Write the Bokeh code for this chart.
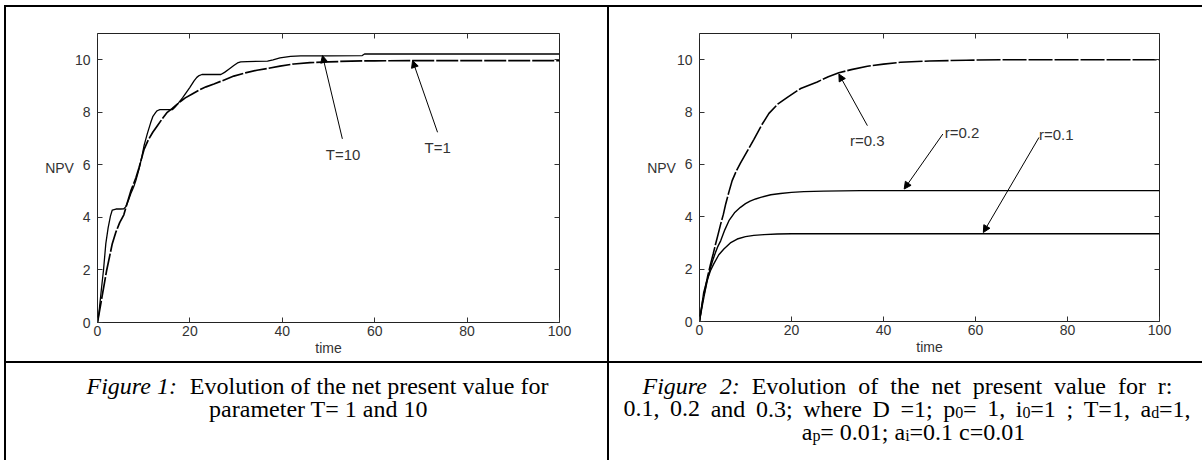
import re
from bokeh.plotting import figure
from bokeh.models import Range1d, LinearAxis, FixedTicker, Arrow, NormalHead, Label, Div
from bokeh.layouts import row, column
from bokeh.embed import file_html
from bokeh.resources import INLINE
from bokeh.core.properties import value

# ---------------- data ----------------
x_ticks = [0, 20, 40, 60, 80, 100]
y_ticks = [0, 2, 4, 6, 8, 10]
x_title = "time"
y_title = "NPV"

# Figure 1: T = 10 (stepped) and T = 1 (smooth)
t_T10 = [0, 0.3, 0.8, 1.3, 1.8, 2.3, 2.8, 3.2, 4.0, 5.0, 5.7, 6.1, 6.7, 7.2, 7.8, 8.3, 9.0, 9.6, 10.1, 10.8,
         11.5, 12.0, 12.6, 12.9, 13.5, 16.2, 16.8, 17.5, 18.4, 19.2, 20.0, 20.9, 21.5, 22.0, 22.6, 26.7, 27.5,
         28.5, 29.5, 30.3, 31.0, 32.4, 36.8, 38.0, 39.5, 41.8, 44.0, 50.0, 57.3, 57.8, 100]
npv_T10 = [0, 0.35, 1.2, 2.0, 3.0, 3.6, 4.05, 4.28, 4.32, 4.32, 4.33, 4.4, 4.65, 4.9, 5.15, 5.4, 5.85, 6.3, 6.75, 7.2,
           7.6, 7.85, 8.0, 8.06, 8.1, 8.1, 8.2, 8.35, 8.55, 8.75, 8.95, 9.2, 9.33, 9.4, 9.44, 9.44, 9.52,
           9.65, 9.78, 9.88, 9.92, 9.93, 9.95, 10.0, 10.07, 10.13, 10.15, 10.15, 10.16, 10.22, 10.22]

t_T1 = [0, 0.5, 1.0, 1.5, 2.0, 2.6, 3.2, 4.0, 4.8, 5.7, 6.1, 7.2, 8.3, 9.0, 10.1, 11.0, 12.0, 13.0, 14.0, 15.1,
        16.2, 17.5, 19.0, 20.5, 22.0, 23.5, 25.2, 27.0, 29.5, 32.0, 34.5, 36.8, 39.5, 42.5, 46.0, 50.0, 55.0,
        60.0, 70.0, 100.0]
npv_T1 = [0, 0.5, 1.0, 1.5, 2.0, 2.5, 3.0, 3.45, 3.8, 4.1, 4.35, 5.0, 5.5, 5.9, 6.6, 6.95, 7.25, 7.5, 7.75, 8.0,
          8.15, 8.35, 8.55, 8.7, 8.85, 8.97, 9.08, 9.2, 9.38, 9.5, 9.6, 9.67, 9.76, 9.84, 9.89, 9.92, 9.95,
          9.96, 9.97, 9.97]

fig1_labels = ["T=10", "T=1"]

# Figure 2: r = 0.3, 0.2, 0.1
t_r03 = [0, 0.2, 0.7, 1.3, 1.8, 2.4, 3.0, 3.5, 4.0, 4.6, 5.2, 5.7, 6.4, 7.1, 8.0, 8.9, 10.2, 11.8, 13.5, 15.1,
         17.0, 19.1, 22.0, 25.6, 28.0, 30.3, 33.0, 36.5, 40.0, 43.7, 50.0, 58.0, 66.0, 100.0]
npv_r03 = [0, 0.28, 0.8, 1.3, 1.75, 2.19, 2.6, 2.96, 3.3, 3.72, 4.1, 4.49, 4.95, 5.38, 5.75, 6.05, 6.45, 6.95, 7.5, 7.95,
           8.3, 8.56, 8.9, 9.15, 9.35, 9.5, 9.62, 9.75, 9.83, 9.9, 9.95, 9.98, 10.0, 10.0]

t_r02 = [0, 0.5, 1.2, 1.8, 2.4, 3.0, 3.5, 4.0, 4.6, 5.5, 6.4, 7.6, 8.9, 10.0, 11.0, 12.2, 13.3, 15.5, 17.6, 20.0,
         22.7, 27.0, 35.0, 100.0]
npv_r02 = [0, 0.5, 1.15, 1.65, 2.06, 2.4, 2.65, 2.87, 3.08, 3.5, 3.85, 4.15, 4.36, 4.5, 4.6, 4.68, 4.74, 4.84, 4.89, 4.93,
           4.96, 4.98, 5.0, 5.0]

t_r01 = [0, 0.5, 0.9, 1.5, 2.4, 3.1, 4.2, 5.3, 6.7, 8.2, 10.0, 11.8, 14.0, 16.9, 20.0, 100.0]
npv_r01 = [0, 0.6, 1.1, 1.5, 1.95, 2.2, 2.55, 2.77, 3.0, 3.15, 3.24, 3.29, 3.32, 3.34, 3.35, 3.35]

fig2_labels = ["r=0.3", "r=0.2", "r=0.1"]

caption1 = [
    [("Figure 1:", "i"), ("  Evolution of the net present value for", "r")],
    [("parameter T= 1 and 10", "r")],
]
caption2 = [
    [("Figure 2:", "i"), (" Evolution of the net present value for r:", "r")],
    [("0.1, 0.2 and 0.3; where D =1; p", "r"), ("0", "s"), ("= 1, i", "r"), ("0", "s"),
     ("=1 ; T=1, a", "r"), ("d", "s"), ("=1,", "r")],
    [("a", "r"), ("p", "s"), ("= 0.01; a", "r"), ("i", "s"), ("=0.1 c=0.01", "r")],
]

# ---------------- styling helpers ----------------
SANS = "Liberation Sans"
SERIF = "Liberation Serif"
TXT = "#333333"


def make_plot(frame_w, frame_h, bl, br, bt, bb):
    p = figure(frame_width=frame_w, frame_height=frame_h,
               min_border_left=bl, min_border_right=br, min_border_top=bt, min_border_bottom=bb,
               x_range=Range1d(0, 100), y_range=Range1d(0, 11),
               x_axis_type=None, y_axis_type=None,
               output_backend="svg", toolbar_location=None)
    p.background_fill_color = "white"
    p.border_fill_color = "white"
    p.outline_line_color = "#222222"
    p.outline_line_width = 1
    for loc in ["below", "left", "above", "right"]:
        ticks = x_ticks if loc in ("below", "above") else y_ticks
        ax = LinearAxis(ticker=FixedTicker(ticks=ticks))
        ax.major_tick_in = 5
        ax.major_tick_out = 0
        ax.major_tick_line_color = "#333333"
        ax.minor_tick_line_color = None
        ax.axis_line_color = None
        if loc in ("above", "right"):
            ax.major_label_text_color = None
            ax.major_label_standoff = 0
        else:
            ax.major_label_text_font = SANS
            ax.major_label_text_font_size = "14px"
            ax.major_label_text_color = TXT
            ax.major_label_standoff = 7 if loc == "left" else 3
        if loc == "below":
            ax.axis_label = x_title
            ax.axis_label_text_font = SANS
            ax.axis_label_text_font_size = "14px"
            ax.axis_label_text_font_style = "normal"
            ax.axis_label_text_color = TXT
            ax.axis_label_standoff = 1
        if loc == "left":
            ax.axis_label = y_title + "\n"
            ax.axis_label_orientation = "horizontal"
            ax.axis_label_text_font = SANS
            ax.axis_label_text_font_size = "14px"
            ax.axis_label_text_font_style = "normal"
            ax.axis_label_text_color = TXT
            ax.axis_label_standoff = -2
        p.add_layout(ax, loc)
    return p


def arrow(p, xs, ys, xe, ye):
    p.add_layout(Arrow(end=NormalHead(size=7, fill_color="black", line_color="black", line_width=1),
                       x_start=xs, y_start=ys, x_end=xe, y_end=ye,
                       line_color="black", line_width=1))


def note(p, x, y, txt):
    p.add_layout(Label(x=x, y=y, text=txt, text_align="left", text_baseline="alphabetic",
                       text_font=SANS, text_font_size="15px", text_color=TXT))


# ---------------- figure 1 ----------------
p1 = make_plot(462, 289, 91, 48, 26, 39)
p1.line(t_T1, npv_T1, line_color="black", line_width=1.7, line_dash="22 2")
p1.line(t_T10, npv_T10, line_color="black", line_width=1.3)
note(p1, 49.4, 6.39, fig1_labels[0])
note(p1, 70.8, 6.66, fig1_labels[1])
arrow(p1, 53.0, 6.99, 48.7, 10.16)
arrow(p1, 73.6, 7.24, 68.2, 9.97)

# ---------------- figure 2 ----------------
p2 = make_plot(460, 288, 90, 43, 26, 40)
p2.line(t_r03, npv_r03, line_color="black", line_width=1.6, line_dash="24 2")
p2.line(t_r02, npv_r02, line_color="black", line_width=1.4)
p2.line(t_r01, npv_r01, line_color="black", line_width=1.4)
note(p2, 32.7, 6.93, fig2_labels[0])
note(p2, 53.3, 7.22, fig2_labels[1])
note(p2, 73.8, 7.16, fig2_labels[2])
arrow(p2, 36.5, 7.48, 30.3, 9.45)
arrow(p2, 52.9, 7.16, 44.5, 5.06)
arrow(p2, 73.8, 7.03, 61.7, 3.40)

# ---------------- captions ----------------
ROMAN_W = {' ': 250, '.': 250, ',': 250, ';': 278, ':': 278, '=': 564,
           'D': 722, 'E': 611, 'F': 556, 'T': 611,
           'a': 444, 'b': 500, 'c': 444, 'd': 500, 'e': 444, 'f': 333, 'g': 500, 'h': 500,
           'i': 278, 'l': 278, 'm': 778, 'n': 500, 'o': 500, 'p': 500, 'r': 333, 's': 389,
           't': 278, 'u': 500, 'v': 500, 'w': 722}
for d in "0123456789":
    ROMAN_W[d] = 500
ITALIC_W = {'F': 611, 'i': 278, 'g': 500, 'u': 500, 'r': 389, 'e': 444, ' ': 250, ':': 333}
for d in "0123456789":
    ITALIC_W[d] = 500

CAP_SIZE = 24.0
SUB_SCALE = 0.65


def seg_size(st):
    return CAP_SIZE * SUB_SCALE if st == "s" else CAP_SIZE


def width(s, st):
    table = ITALIC_W if st == "i" else ROMAN_W
    return sum(table.get(ch, 500) for ch in s) / 1000.0 * seg_size(st)


def tokenize(segs, split_words):
    """Return tokens (text, style, spaces_before)."""
    toks = []
    pending = 0
    for txt, st in segs:
        if not split_words:
            body = txt.strip(" ")
            lead = len(txt) - len(txt.lstrip(" "))
            trail = len(txt) - len(txt.rstrip(" "))
            toks.append((body, st, pending + lead))
            pending = trail
            continue
        for part in re.split(r"( +)", txt):
            if part == "":
                continue
            if part.startswith(" "):
                pending += len(part)
            else:
                toks.append((part, st, pending))
                pending = 0
    return toks


def make_caption(x0, x1, y0, y1, lines, layout_spec, baselines):
    c = figure(width=x1 - x0, height=y1 - y0, x_range=Range1d(x0, x1), y_range=Range1d(y1, y0),
               min_border=0, min_border_left=0, min_border_right=0, min_border_top=0, min_border_bottom=0,
               x_axis_type=None, y_axis_type=None, output_backend="svg", toolbar_location=None)
    c.outline_line_color = None
    c.background_fill_color = "white"
    c.border_fill_color = "white"
    groups = {"r": ([], [], []), "i": ([], [], []), "s": ([], [], [])}
    for segs, spec, base in zip(lines, layout_spec, baselines):
        justify = spec[0] == "justify"
        toks = tokenize(segs, justify)
        space_w = 0.25 * CAP_SIZE
        natural = sum(width(t, st) + n * space_w for i, (t, st, n) in enumerate(toks) if True)
        natural -= toks[0][2] * space_w
        if justify:
            xa, xb = spec[1], spec[2]
            ngaps = sum(1 for i, tk in enumerate(toks) if i > 0 and tk[2] > 0)
            extra = ((xb - xa) - natural) / max(ngaps, 1)
            pos = xa
        else:
            extra = 0.0
            pos = spec[1] - natural / 2.0
        for i, (t, st, n) in enumerate(toks):
            if i > 0 and n > 0:
                pos += n * space_w + extra
            xs, ys, ts = groups[st]
            xs.append(pos)
            ys.append(base + (0.16 * CAP_SIZE if st == "s" else 0))
            ts.append(t)
            pos += width(t, st)
    for st, (xs, ys, ts) in groups.items():
        if not xs:
            continue
        c.text(x=xs, y=ys, text=ts, text_font=value(SERIF),
               text_font_size=value("%dpx" % round(seg_size(st))),
               text_font_style="italic" if st == "i" else "normal",
               text_color="black", text_align="left", text_baseline="alphabetic")
    return c


BASELINES = [385, 408, 431]
c1 = make_caption(6, 607, 363, 460, caption1,
                  [("center", 317), ("center", 318)], BASELINES)
c2 = make_caption(609, 1202, 363, 460, caption2,
                  [("justify", 642, 1172), ("justify", 623, 1190), ("center", 913)], BASELINES)


# ---------------- table rules ----------------
def rule(w, h):
    return Div(text="", width=w, height=h, margin=0, styles={"background-color": "black"})


layout = column(
    rule(1198, 2),
    row(rule(2, 354), p1, rule(2, 354), p2, spacing=0),
    rule(1198, 2),
    row(rule(2, 97), c1, rule(2, 97), c2, spacing=0),
    spacing=0,
    margin=(5, 0, 0, 4),
)

open("out.html", "w").write(file_html(layout, INLINE))
